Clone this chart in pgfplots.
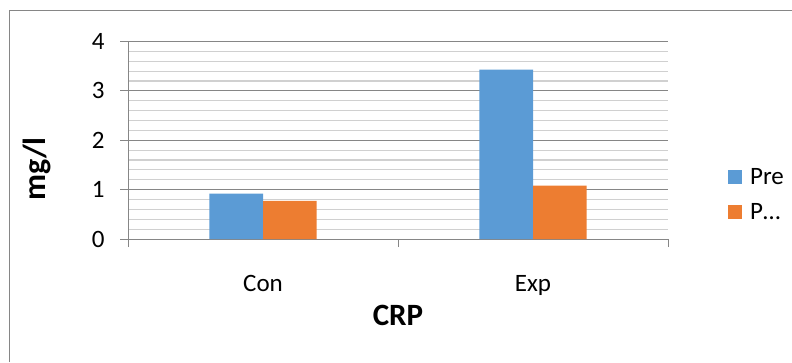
\documentclass[border=0pt]{standalone}
\usepackage{pgfplots}
\pgfplotsset{compat=1.18}
\usepackage{fontspec}
\setmainfont{Carlito}
\definecolor{cblue}{HTML}{5B9BD5}
\definecolor{corange}{HTML}{ED7D31}
\definecolor{majorc}{HTML}{868686}
\definecolor{minorc}{HTML}{D0D0D0}
\begin{document}
\begin{tikzpicture}
\useasboundingbox (0,0) rectangle (792pt,362pt);
\draw[color=majorc, line width=1pt] (9pt,0) -- (9pt,351pt) -- (792pt,351pt);
\begin{axis}[
  at={(128pt,123pt)}, anchor=south west,
  scale only axis, width=540pt, height=197.5pt,
  xmin=0, xmax=2, ymin=0, ymax=4,
  ybar=0pt, bar width=53.7pt,
  axis lines=left, axis line style={-, draw=majorc, line width=0.8pt},
  xtick={0.5,1.5}, xticklabels={Con,Exp},
  major x tick style={draw=none},
  extra x ticks={0,1,2}, extra x tick labels={},
  extra x tick style={grid=none, major tick length=8pt, tick align=outside, major x tick style={draw=majorc, line width=0.8pt}},
  ytick={0,1,2,3,4}, minor y tick num=4,
  ymajorgrids, yminorgrids,
  major grid style={draw=majorc, line width=0.8pt},
  minor grid style={draw=minorc, line width=1.2pt},
  minor tick length=0pt, major tick length=8pt, tick align=outside,
  major y tick style={draw=majorc, line width=0.8pt},
  tick label style={font=\fontsize{25}{25}\selectfont},
  /pgf/number format/assume math mode=true,
  xticklabel style={anchor=base, yshift=-44pt},
  yticklabel style={anchor=east, xshift=-12pt},
  xlabel={CRP}, ylabel={mg/l},
  xlabel style={at={(axis description cs:0.5,-0.438)}, anchor=base, font=\bfseries\fontsize{31}{31}\selectfont},
  ylabel style={at={(axis description cs:-0.152,0.354)}, anchor=base, font=\bfseries\fontsize{32}{32}\selectfont},
  legend style={at={(axis description cs:1.111,0.225)}, anchor=west, draw=none, fill=none, inner sep=0pt,
    font=\fontsize{25}{25}\selectfont, legend cell align=left, row sep=18pt,
    nodes={inner sep=0pt, outer sep=0pt},
    /tikz/every odd column/.style={column sep=8pt}},
  legend image code/.code={\fill (0pt,-7pt) rectangle (14pt,7pt);},
]
\addplot[fill=cblue, draw=none] coordinates {(0.5,0.92) (1.5,3.43)};
\addplot[fill=corange, draw=none] coordinates {(0.5,0.77) (1.5,1.08)};
\legend{Pre, P…}
\end{axis}
\end{tikzpicture}
\end{document}
